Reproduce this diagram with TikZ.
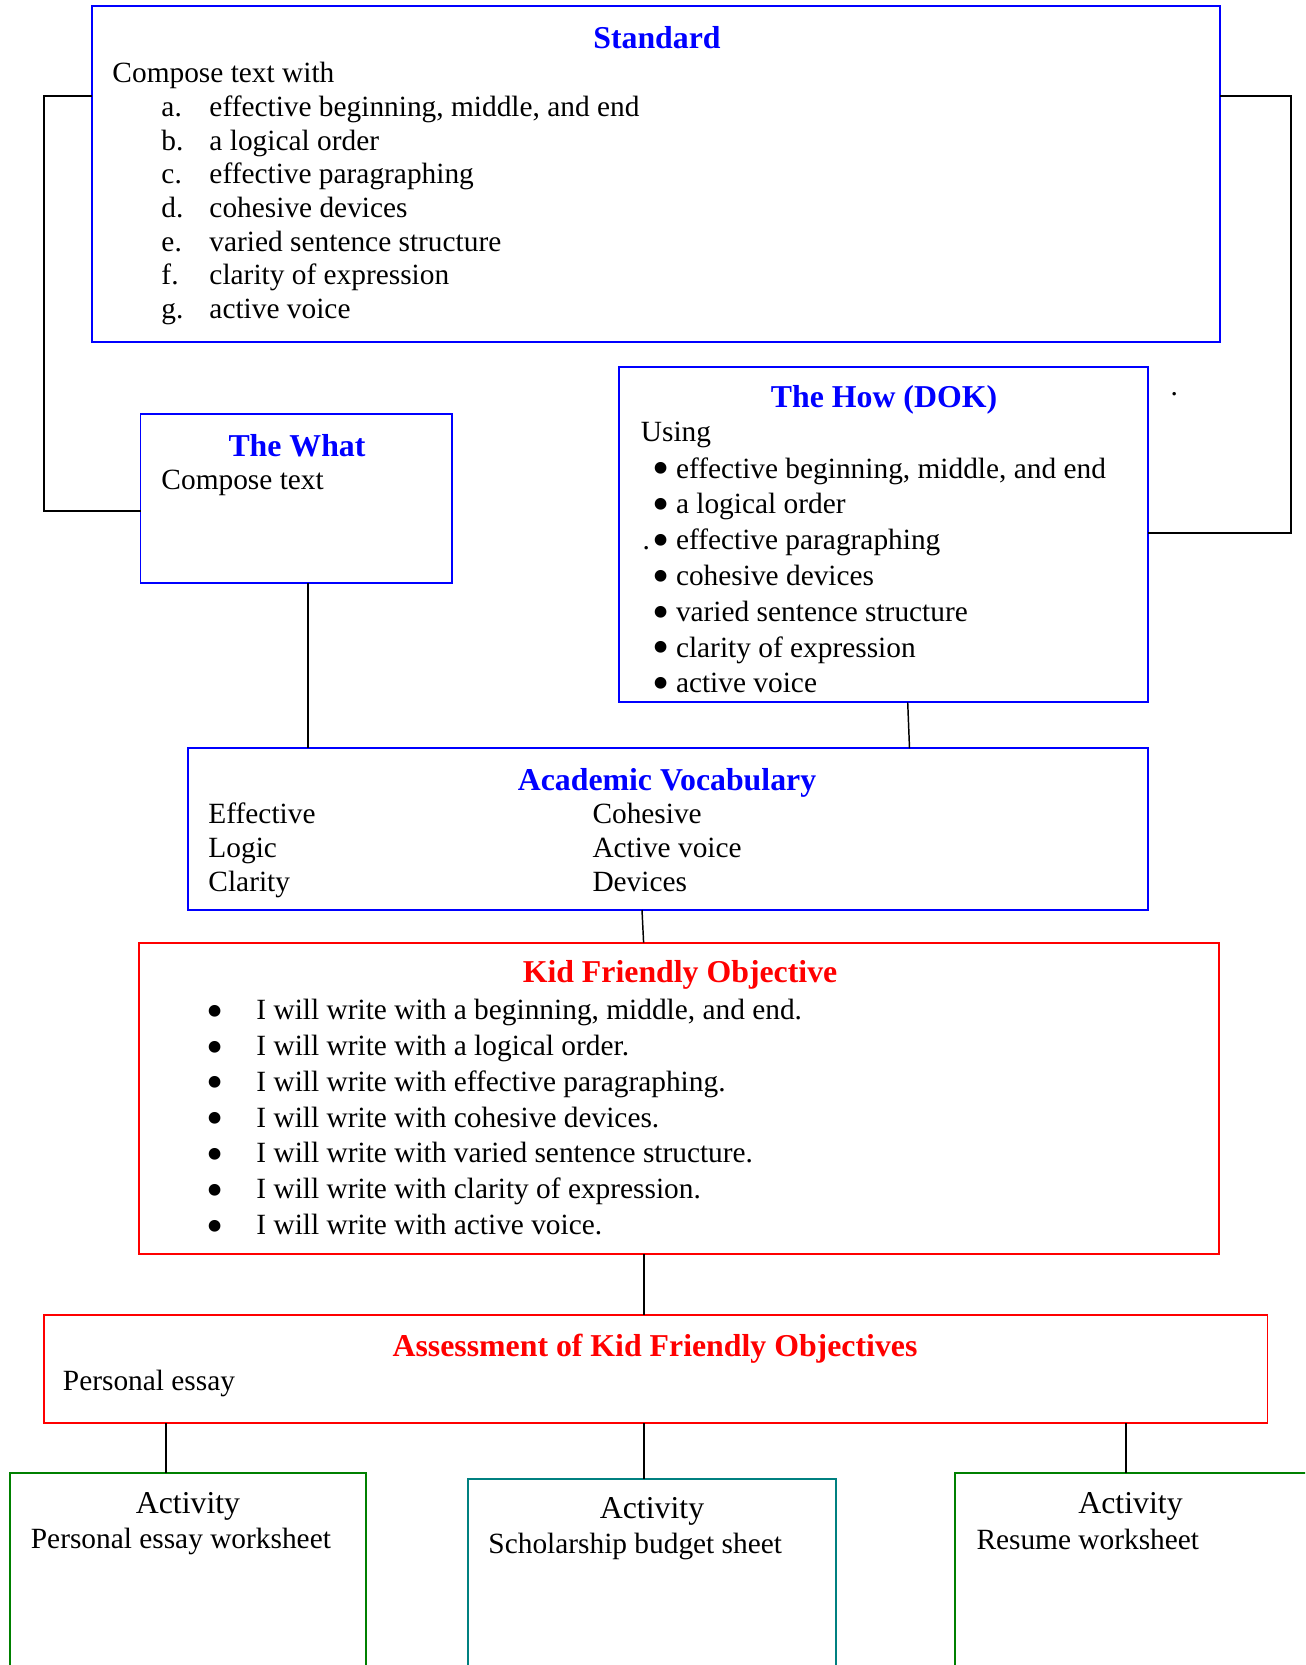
\documentclass[tikz,border=0pt]{standalone}
\usepackage{fontspec}
\setmainfont{Liberation Serif}
\usetikzlibrary{fit}
\definecolor{mblue}{RGB}{0,0,255}
\definecolor{mred}{RGB}{255,0,0}
\definecolor{mgreen}{RGB}{0,128,0}
\definecolor{mteal}{RGB}{0,128,128}
\tikzset{
  boxbase/.style={draw, inner sep=0pt, outer sep=0pt, line width=0.7pt},
  bluebox/.style={boxbase, draw=mblue},
  redbox/.style={boxbase, draw=mred},
  greenbox/.style={boxbase, draw=mgreen},
  tealbox/.style={boxbase, draw=mteal},
  conn/.style={draw=black, line width=0.6pt},
  body/.style={anchor=base west, inner sep=0pt, yshift=-0.6pt, font=\fontsize{12}{14}\selectfont},
  bul/.style={anchor=center, inner sep=0pt, yshift=-2.3pt, font=\fontsize{20}{20}\selectfont},
  btitle/.style={anchor=base, inner sep=0pt, yshift=-0.5pt, font=\fontsize{13}{15}\selectfont\bfseries, text=mblue},
  rtitle/.style={anchor=base, inner sep=0pt, yshift=-0.5pt, font=\fontsize{13}{15}\selectfont\bfseries, text=mred},
  acttitle/.style={anchor=base, inner sep=0pt, yshift=-0.5pt, font=\fontsize{13}{15}\selectfont},
}
\begin{document}
\begin{tikzpicture}[x=0.4087pt, y=-0.4087pt]
\useasboundingbox (0,0) rectangle (1305,1665);
\clip (0,0) rectangle (1305,1665);

% box corners
\coordinate (std-nw) at (92,6);      \coordinate (std-se) at (1220,341.7);
\coordinate (what-nw) at (140.6,414.3); \coordinate (what-se) at (452,582.7);
\coordinate (how-nw) at (619.3,366.7);  \coordinate (how-se) at (1148,702.3);
\coordinate (av-nw) at (188,748.3);     \coordinate (av-se) at (1148,910);
\coordinate (kfo-nw) at (139.3,942.7);  \coordinate (kfo-se) at (1219,1254.3);
\coordinate (as-nw) at (43.8,1315);     \coordinate (as-se) at (1267.4,1423.3);
\coordinate (a1-nw) at (9.8,1473.3);    \coordinate (a1-se) at (366,1720);
\coordinate (a2-nw) at (467.9,1479);    \coordinate (a2-se) at (835.8,1720);
\coordinate (a3-nw) at (955.3,1473.3);  \coordinate (a3-se) at (1340,1720);

% boxes
\node[bluebox, fit=(std-nw)(std-se)] (std) {};
\node[bluebox, fit=(what-nw)(what-se)] (what) {};
\node[bluebox, fit=(how-nw)(how-se)] (how) {};
\node[bluebox, fit=(av-nw)(av-se)] (av) {};
\node[redbox, fit=(kfo-nw)(kfo-se)] (kfo) {};
\node[redbox, fit=(as-nw)(as-se)] (as) {};
\node[greenbox, fit=(a1-nw)(a1-se)] (a1) {};
\node[tealbox, fit=(a2-nw)(a2-se)] (a2) {};
\node[greenbox, fit=(a3-nw)(a3-se)] (a3) {};

% Standard
\node[btitle] (std-t) at (657,47) {Standard};
\node[body] (std-c) at (112,81) {Compose text with};
\foreach \l/\t [count=\i from 0] in {a./effective beginning{,} middle{,} and end, b./a logical order, c./effective paragraphing, d./cohesive devices, e./varied sentence structure, f./clarity of expression, g./active voice}{
  \node[body] (std-l\i) at (161,115+33.7*\i) {\l};
  \node[body] (std-x\i) at (209,115+33.7*\i) {\t};
}

% The What
\node[btitle] (what-t) at (297,455) {The What};
\node[body] (what-c) at (161,488) {Compose text};

% The How
\node[btitle] (how-t) at (884,406.7) {The How (DOK)};
\node[body] (how-u) at (640.4,440) {Using};
\foreach \t [count=\i from 0] in {effective beginning{,} middle{,} and end, a logical order, effective paragraphing, cohesive devices, varied sentence structure, clarity of expression, active voice}{
  \node[bul] (how-b\i) at (661.5,468.3+35.8*\i) {•};
  \node[body] (how-x\i) at (675.5,476.7+35.8*\i) {\t};
}
\node[body] (how-dot) at (642,548.3) {.};
\node[body] (stray-dot) at (1170,394) {.};

% Academic Vocabulary
\node[btitle] (av-t) at (667,789.3) {Academic Vocabulary};
\node[body] (av-1) at (208,821.7) {Effective};
\node[body] (av-2) at (208,855.7) {Logic};
\node[body] (av-3) at (208,890) {Clarity};
\node[body] (av-4) at (592,821.7) {Cohesive};
\node[body] (av-5) at (592,855.7) {Active voice};
\node[body] (av-6) at (592,890) {Devices};

% Kid Friendly Objective
\node[rtitle] (kfo-t) at (680,981.7) {Kid Friendly Objective};
\foreach \t [count=\i from 0] in {I will write with a beginning{,} middle{,} and end., I will write with a logical order., I will write with effective paragraphing., I will write with cohesive devices., I will write with varied sentence structure., I will write with clarity of expression., I will write with active voice.}{
  \node[bul] (kfo-b\i) at (214.7,1010.7+35.8*\i) {•};
  \node[body] (kfo-x\i) at (256,1018.3+35.8*\i) {\t};
}

% Assessment
\node[rtitle] (as-t) at (655,1355) {Assessment of Kid Friendly Objectives};
\node[body] (as-c) at (62.5,1389.3) {Personal essay};

% Activities
\node[acttitle] (a1-t) at (188,1512.3) {Activity};
\node[body] (a1-c) at (30.4,1546.7) {Personal essay worksheet};
\node[acttitle] (a2-t) at (652,1517.3) {Activity};
\node[body] (a2-c) at (488,1551.7) {Scholarship budget sheet};
\node[acttitle] (a3-t) at (1130.5,1512.3) {Activity};
\node[body] (a3-c) at (976,1547.7) {Resume worksheet};

% connector helper coordinates
\coordinate (lcTop) at (44,96);
\coordinate (lcBot) at (44,510.7);
\coordinate (rcTop) at (1291,96);
\coordinate (rcBot) at (1291,533);
\coordinate (wx) at (308,0);
\coordinate (hx1) at (907.7,0);
\coordinate (hx2) at (909.5,0);
\coordinate (vx1) at (642,0);
\coordinate (vx2) at (643.6,0);
\coordinate (cx) at (644,0);
\coordinate (lx) at (166,0);
\coordinate (rx) at (1126,0);

% connectors
\draw[conn, line width=0.75pt] (std.west |- lcTop) -- (lcTop) -- (lcBot) -- (what.west |- lcBot);
\draw[conn, line width=0.75pt] (std.east |- rcTop) -- (rcTop) -- (rcBot) -- (how.east |- rcBot);
\draw[conn] (what.south -| wx) -- (av.north -| wx);
\draw[conn] (how.south -| hx1) -- (av.north -| hx2);
\draw[conn] (av.south -| vx1) -- (kfo.north -| vx2);
\draw[conn] (kfo.south -| cx) -- (as.north -| cx);
\draw[conn] (as.south -| lx) -- (a1.north -| lx);
\draw[conn] (as.south -| cx) -- (a2.north -| cx);
\draw[conn] (as.south -| rx) -- (a3.north -| rx);
\end{tikzpicture}
\end{document}
